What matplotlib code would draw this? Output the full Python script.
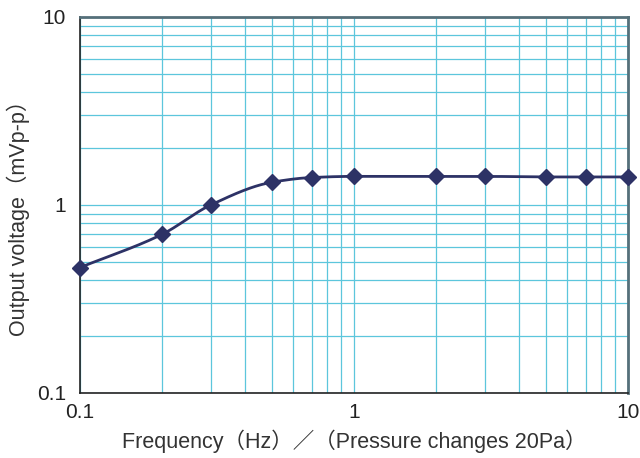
import numpy as np
import matplotlib
matplotlib.use("Agg")
import matplotlib.pyplot as plt
from matplotlib.ticker import LogLocator, FixedLocator, FixedFormatter, NullFormatter

plt.rcParams["font.family"] = ["Liberation Sans", "Noto Sans CJK JP", "DejaVu Sans"]

# data
freq_hz = [0.1, 0.2, 0.3, 0.5, 0.7, 1, 2, 3, 5, 7, 10]
output_mv = [0.465, 0.70, 1.0, 1.32, 1.40, 1.42, 1.42, 1.42, 1.41, 1.41, 1.41]
tick_vals = [0.1, 1, 10]
tick_labels = ["0.1", "1", "10"]


def pchip(x, y, xn):
    """Monotone cubic through the points (drawing only)."""
    x = np.asarray(x, float)
    y = np.asarray(y, float)
    h = np.diff(x)
    d = np.diff(y) / h
    m = np.zeros_like(y)
    for i in range(1, len(x) - 1):
        if d[i - 1] * d[i] > 0:
            w1 = 2 * h[i] + h[i - 1]
            w2 = h[i] + 2 * h[i - 1]
            m[i] = (w1 + w2) / (w1 / d[i - 1] + w2 / d[i])
    m[0] = d[0]
    m[-1] = d[-1]
    idx = np.clip(np.searchsorted(x, xn) - 1, 0, len(h) - 1)
    t = (xn - x[idx]) / h[idx]
    h00 = 2 * t**3 - 3 * t**2 + 1
    h10 = t**3 - 2 * t**2 + t
    h01 = -2 * t**3 + 3 * t**2
    h11 = t**3 - t**2
    return h00 * y[idx] + h10 * h[idx] * m[idx] + h01 * y[idx + 1] + h11 * h[idx] * m[idx + 1]


lx = np.log10(freq_hz)
ly = np.log10(output_mv)
xs = np.linspace(lx[0], lx[-1], 400)
ys = pchip(lx, ly, xs)

fig = plt.figure(figsize=(6.4, 4.58), dpi=100)
ax = fig.add_axes([80 / 640, 65 / 458, 548 / 640, 376 / 458])

ax.set_xscale("log")
ax.set_yscale("log")
ax.set_xlim(0.1, 10)
ax.set_ylim(0.1, 10)

grid_color = "#5cc6dc"
ax.xaxis.set_minor_locator(LogLocator(base=10, subs=np.arange(2, 10)))
ax.yaxis.set_minor_locator(LogLocator(base=10, subs=np.arange(2, 10)))
ax.xaxis.set_minor_formatter(NullFormatter())
ax.yaxis.set_minor_formatter(NullFormatter())
ax.xaxis.set_major_locator(FixedLocator(tick_vals))
ax.yaxis.set_major_locator(FixedLocator(tick_vals))
ax.xaxis.set_major_formatter(FixedFormatter(tick_labels))
ax.yaxis.set_major_formatter(FixedFormatter(tick_labels))
ax.grid(True, which="both", color=grid_color, linewidth=0.9)
ax.set_axisbelow(True)
ax.tick_params(which="both", length=0, labelsize=15, colors="#222222")
ax.tick_params(axis="x", pad=7)
ax.tick_params(axis="y", pad=10)

for side in ["top", "right"]:
    ax.spines[side].set_color("#55707a")
    ax.spines[side].set_linewidth(2)
for side in ["left", "bottom"]:
    ax.spines[side].set_color("#222222")
    ax.spines[side].set_linewidth(1.2)

line_color = "#2d3266"
ax.plot(10 ** xs, 10 ** ys, color=line_color, linewidth=2, zorder=3)
ax.plot(freq_hz, output_mv, linestyle="none", marker="D", markersize=8,
        color=line_color, zorder=4, clip_on=False)

ax.set_xlabel("Frequency（Hz）／（Pressure changes 20Pa）", fontsize=15.5, color="#333333", labelpad=6)
ax.set_ylabel("Output voltage（mVp-p）", fontsize=15.5, color="#333333")
ax.yaxis.set_label_coords(-0.092, 0.48)

fig.savefig("out.png", dpi=100)
